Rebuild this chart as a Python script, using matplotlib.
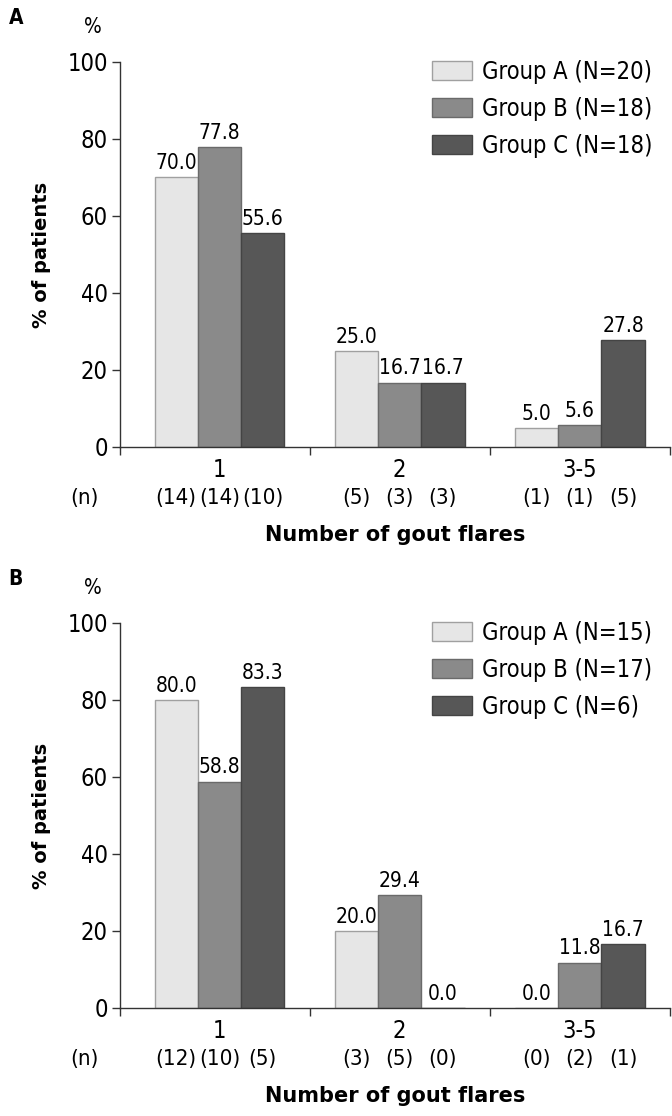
import matplotlib
matplotlib.use("Agg")
import matplotlib.pyplot as plt
from matplotlib.patches import Patch

plt.rcParams['font.family'] = ['DejaVu Sans']
plt.rcParams['font.stretch'] = 'condensed'

categories = ["1", "2", "3-5"]
groups = ["Group A", "Group B", "Group C"]

# panel A
a_N = [20, 18, 18]
a_vals = [[70.0, 25.0, 5.0],
          [77.8, 16.7, 5.6],
          [55.6, 16.7, 27.8]]
a_n = [[14, 5, 1],
       [14, 3, 1],
       [10, 3, 5]]

# panel B
b_N = [15, 17, 6]
b_vals = [[80.0, 20.0, 0.0],
          [58.8, 29.4, 11.8],
          [83.3, 0.0, 16.7]]
b_n = [[12, 3, 0],
       [10, 5, 2],
       [5, 0, 1]]

fills = ["#e6e6e6", "#8a8a8a", "#575757"]
edges = ["#a0a0a0", "#6a6a6a", "#444444"]
w = 0.24


def panel(ax, letter, N, vals, ns):
    for g in range(3):
        xs = [i + (g - 1) * w for i in range(3)]
        ax.bar(xs, vals[g], w, color=fills[g], edgecolor=edges[g], linewidth=1)
        for x, v, n in zip(xs, vals[g], ns[g]):
            ax.annotate("%.1f" % v, (x, v), xytext=(0, 3), textcoords="offset points",
                        ha="center", va="bottom", fontsize=15)
            ax.text(x, -0.132, "(%d)" % n, transform=ax.get_xaxis_transform(),
                    ha="center", va="center", fontsize=16)
    for i, c in enumerate(categories):
        ax.text(i, -0.06, c, transform=ax.get_xaxis_transform(),
                ha="center", va="center", fontsize=17)
    ax.text(-0.04, -0.132, "(n)", transform=ax.transAxes, ha="right", va="center", fontsize=16)
    ax.text(0.5, -0.229, "Number of gout flares", transform=ax.transAxes,
            ha="center", va="center", fontsize=15, fontweight="bold", fontstretch="normal")
    ax.set_ylabel("% of patients", fontsize=14, fontweight="bold", fontstretch="normal", labelpad=12)
    ax.text(-0.05, 1.09, "%", transform=ax.transAxes, ha="center", va="center", fontsize=15)
    ax.text(-0.19, 1.115, letter, transform=ax.transAxes, ha="center", va="center",
            fontsize=15, fontweight="bold")

    ax.set_xlim(-0.55, 2.5)
    ax.set_ylim(0, 100)
    ax.set_yticks([0, 20, 40, 60, 80, 100])
    ax.set_xticks([-0.55, 0.5, 1.5, 2.5])
    ax.set_xticklabels([])
    ax.tick_params(axis="y", labelsize=17, length=6, width=1, color="#333333", pad=3)
    ax.tick_params(axis="x", length=6, width=1, color="#333333")
    for s in ["top", "right"]:
        ax.spines[s].set_visible(False)
    for s in ["left", "bottom"]:
        ax.spines[s].set_color("#333333")
        ax.spines[s].set_linewidth(1)

    handles = [Patch(facecolor=fills[g], edgecolor=edges[g]) for g in range(3)]
    labels = ["%s (N=%d)" % (groups[g], N[g]) for g in range(3)]
    ax.legend(handles, labels, loc="upper left", bbox_to_anchor=(0.567, 1.005),
              frameon=False, fontsize=17, borderaxespad=0, borderpad=0,
              handlelength=1.7, handleheight=0.85, handletextpad=0.4, labelspacing=0.55)


fig = plt.figure(figsize=(6.72, 11.16), dpi=100)
ax1 = fig.add_axes([0.179, 0.5995, 0.818, 0.345])
ax2 = fig.add_axes([0.179, 0.0968, 0.818, 0.345])
panel(ax1, "A", a_N, a_vals, a_n)
panel(ax2, "B", b_N, b_vals, b_n)

fig.savefig("out.png", dpi=100)
